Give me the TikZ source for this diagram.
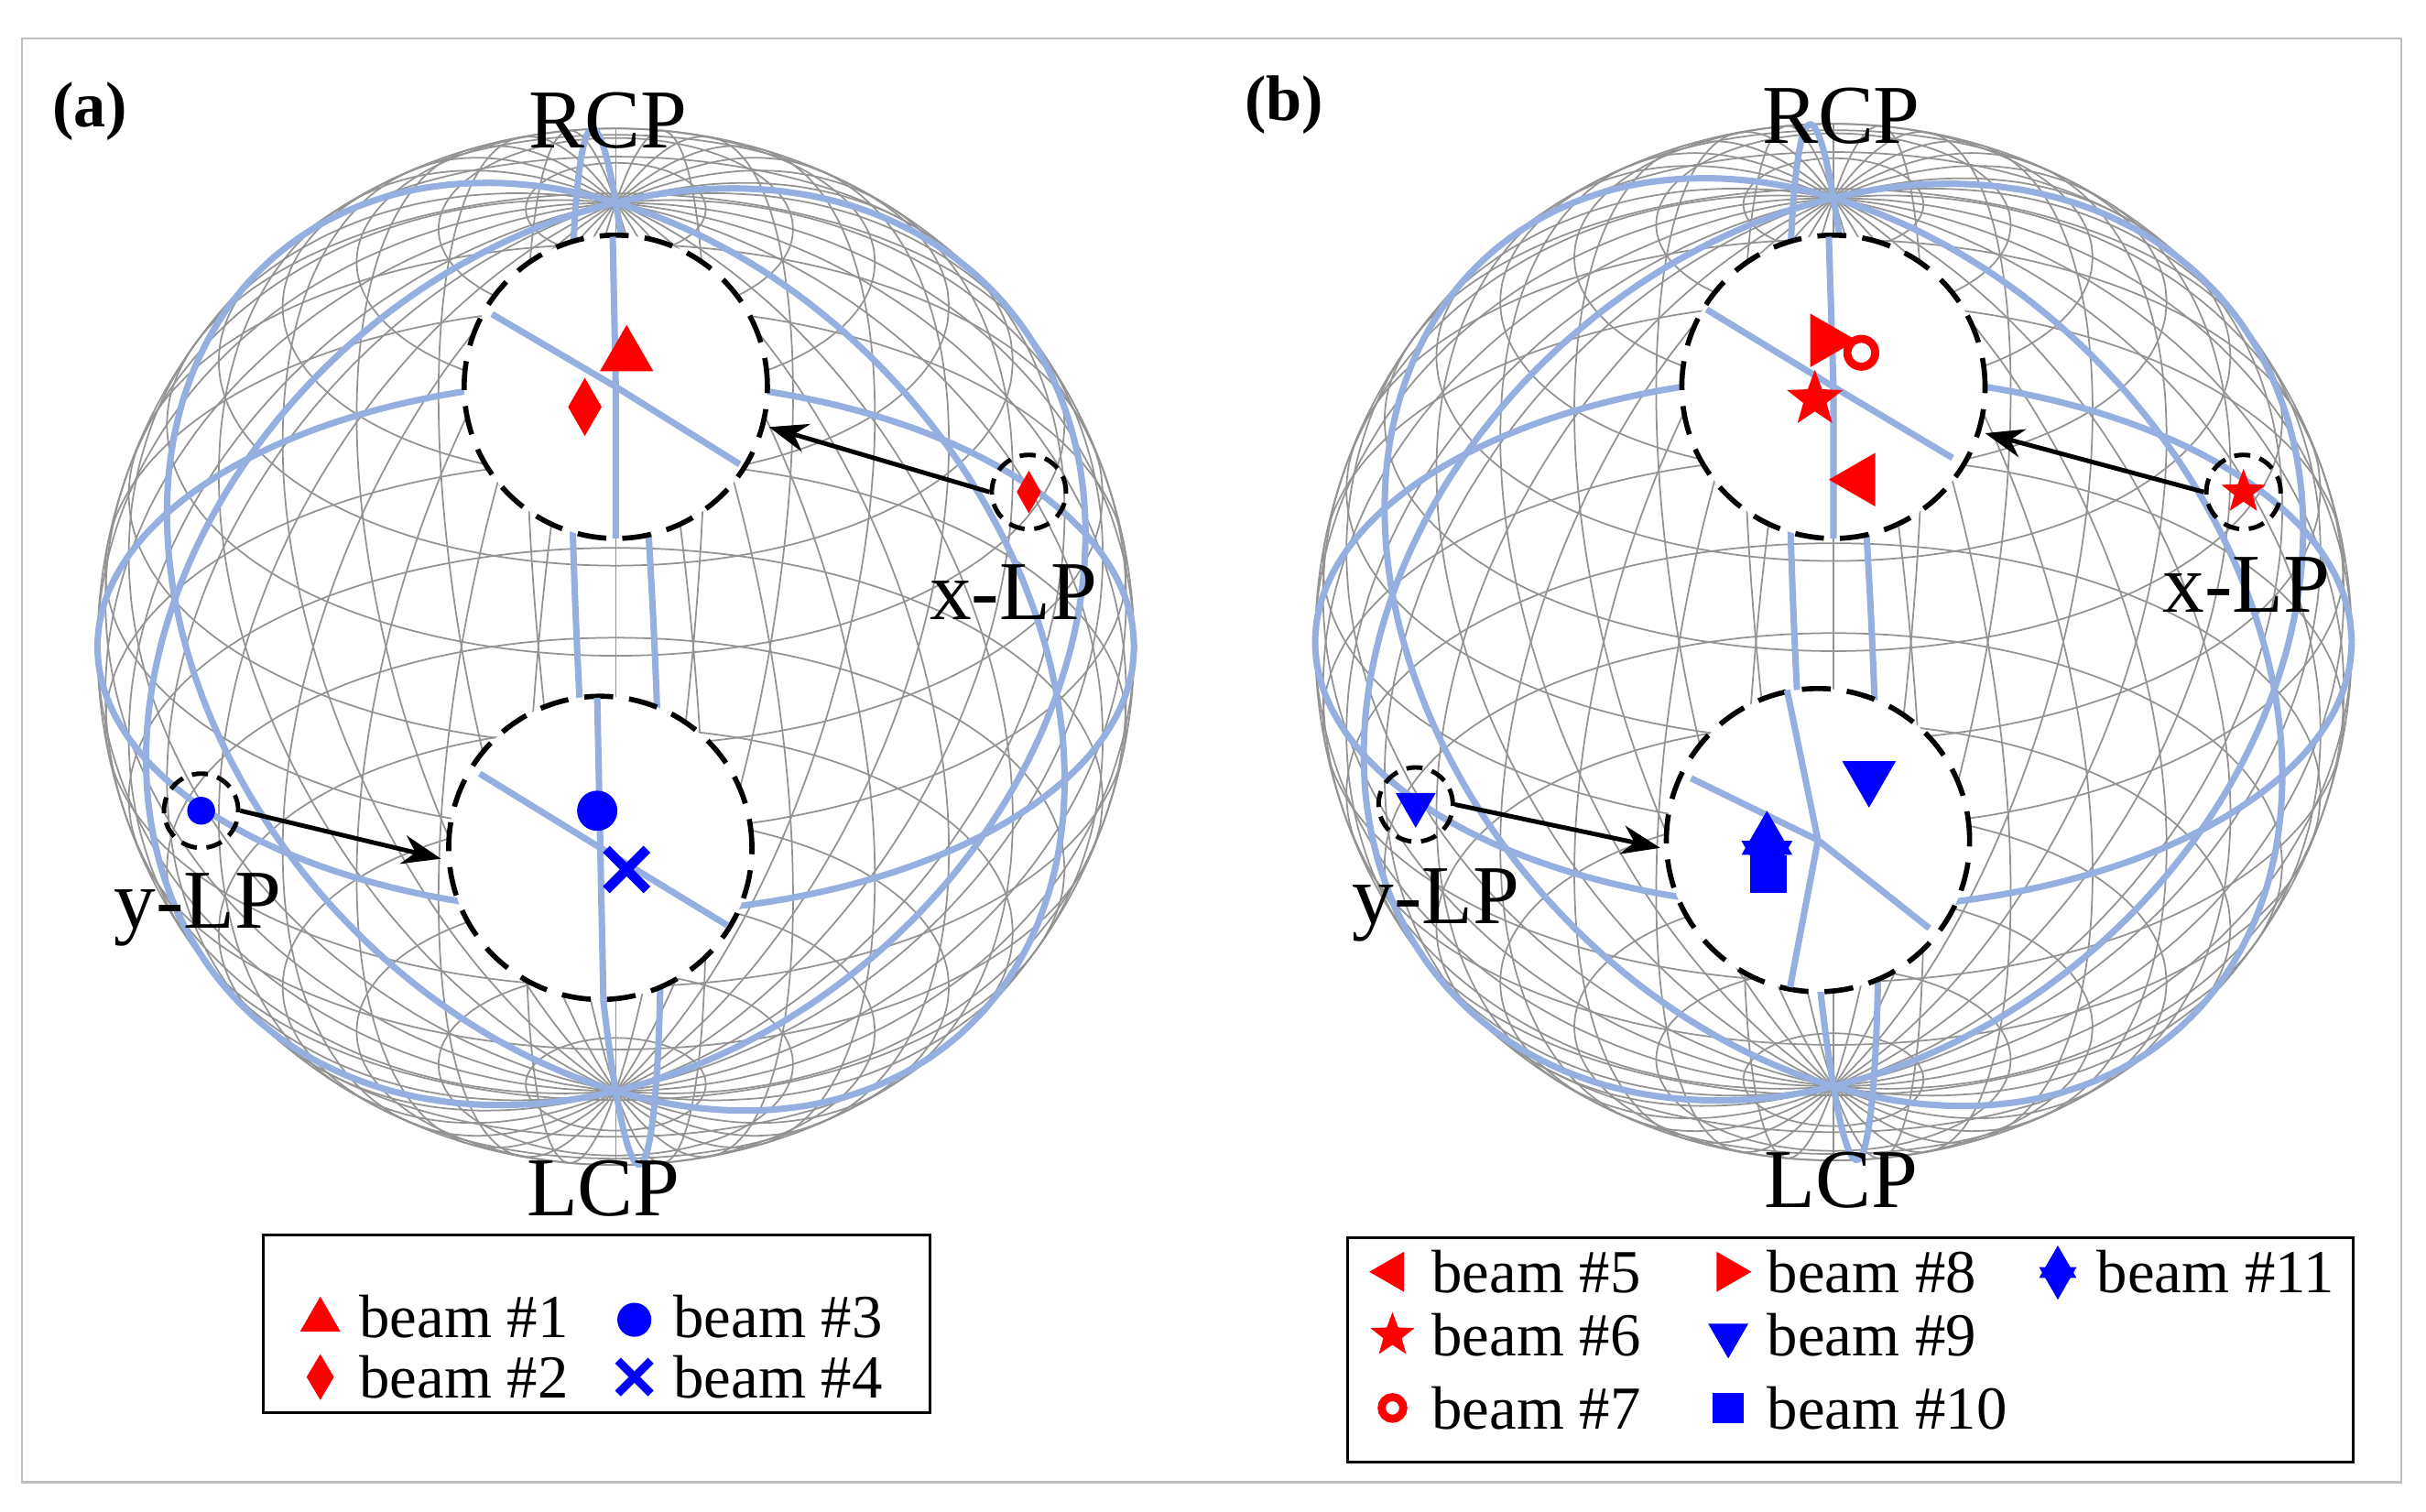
\documentclass[tikz,border=0pt]{standalone}
\usepackage{fontspec}
\setmainfont{Liberation Serif}
\usetikzlibrary{shapes.geometric,shapes.misc,arrows.meta}
\begin{document}
\begin{tikzpicture}[x=0.01689cm,y=-0.01689cm,
 grid/.style={gray!85,line width=0.5pt},
 bl/.style={line width=2pt,color={rgb,255:red,150;green,175;blue,225}},
 inset/.style={circle,draw=black,fill=white,line width=1.6pt,dash pattern=on 9pt off 5pt,minimum size={196*0.01689cm},inner sep=0},
 small/.style={circle,draw=black,line width=1.4pt,dash pattern=on 5pt off 3pt,minimum size={48*0.01689cm},inner sep=0},
 lab/.style={font=\fontsize{26}{30}\selectfont},
 leg/.style={font=\fontsize{19}{22}\selectfont,anchor=west},
 arr/.style={-{Stealth[length=12pt,width=9pt]},line width=1.4pt},
 tri/.style={regular polygon,regular polygon sides=3,fill=#1,inner sep=0,minimum size={40*0.01689cm}},
 dtri/.style={regular polygon,regular polygon sides=3,shape border rotate=180,fill=#1,inner sep=0,minimum size={40*0.01689cm}},
 ltri/.style={regular polygon,regular polygon sides=3,shape border rotate=90,fill=#1,inner sep=0,minimum size={40*0.01689cm}},
 rtri/.style={regular polygon,regular polygon sides=3,shape border rotate=-90,fill=#1,inner sep=0,minimum size={40*0.01689cm}},
 dia/.style={diamond,fill=#1,inner sep=0,minimum width={22*0.01689cm},minimum height={38*0.01689cm}},
 dot/.style={circle,fill=#1,inner sep=0,minimum size={26*0.01689cm}},
 ring/.style={circle,draw=#1,line width=2.5pt,inner sep=0,minimum size={18*0.01689cm}},
 st/.style={star,star points=5,star point ratio=2.4,fill=#1,inner sep=0,minimum size={38*0.01689cm}},
 sq/.style={rectangle,fill=#1,inner sep=0,minimum size={24*0.01689cm}},
 cr/.style={cross out,draw=#1,line width=3pt,inner sep=0,minimum size={20*0.01689cm}},
]
\useasboundingbox (0,0) rectangle (1568,977);
\draw[gray!50,line width=0.6pt] (14,25) rectangle (1552,958);
\def\R{335}
\foreach \cx/\cy in {398/418,1185/415}{
\begin{scope}[shift={(\cx,\cy)}]
 \foreach \t in {10,20,...,170}
  \draw[grid] plot[domain=0:360,samples=61,smooth] ({\R*sin(\t)*cos(\x)},{-\R*(cos(\t)*cos(31)+sin(\t)*sin(\x)*sin(31))});
 \foreach \p in {0,10,...,170}
  \draw[grid] plot[domain=0:360,samples=61,smooth] ({\R*sin(\x)*cos(\p)},{-\R*(cos(\x)*cos(31)+sin(\x)*sin(\p)*sin(31))});
 \draw[grid] (0,0) circle (\R);
 \draw[bl] plot[domain=0:360,samples=73,smooth] ({\R*cos(\x)},{-\R*sin(\x)*sin(31)});
 \foreach \p in {25,95,150}
  \draw[bl] plot[domain=0:360,samples=73,smooth] ({\R*sin(\x)*cos(\p)},{-\R*(cos(\x)*cos(31)+sin(\x)*sin(\p)*sin(31))});
\end{scope}}
% ---------- (a)
\node[font=\fontsize{20}{24}\selectfont\bfseries] (la) at (58,72) {(a)};
\node[inset] (ta) at (398,250) {};
\draw[bl] (ta.center)--(396,153) (ta.center)--(398,348) (ta.center)--(318,203) (ta.center)--(478,300);
\node[inset] (ba) at (388,548) {};
\draw[bl] (ba.center)--(386,451) (ba.center)--(390,646) (ba.center)--(310,500) (ba.center)--(470,598);
\node[tri=red] (a1) at (405,230) {};
\node[dia=red] (a2) at (378,263) {};
\node[dot=blue] (a3) at (386,524) {};
\node[cr=blue] (a4) at (405,562) {};
\node[small] (xa) at (665,318) {};
\node[dia=red,minimum width={16*0.01689cm},minimum height={28*0.01689cm}] (xa2) at (665,318) {};
\node[small] (ya) at (130,524) {};
\node[dot=blue,minimum size={18*0.01689cm}] (ya3) at (130,524) {};
\draw[arr] (xa.west) -- (497,276);
\draw[arr] (ya.east) -- (285,555);
\node[lab] at (393,78) {RCP};
\node[lab] at (655,383) {x-LP};
\node[lab] at (128,588) {y-LP};
\node[lab] at (390,768) {LCP};
\draw[line width=0.8pt] (170,798) rectangle (601,913);
\node[tri=red,minimum size={30*0.01689cm}] (l1) at (207,853) {};
\node[leg] at (225,851) {beam \#1};
\node[dia=red,minimum width={18*0.01689cm},minimum height={30*0.01689cm}] (l2) at (207,890) {};
\node[leg] at (225,890) {beam \#2};
\node[dot=blue,minimum size={22*0.01689cm}] (l3) at (410,853) {};
\node[leg] at (428,851) {beam \#3};
\node[cr=blue,minimum size={16*0.01689cm},line width=2.5pt] (l4) at (410,890) {};
\node[leg] at (428,890) {beam \#4};
% ---------- (b)
\node[font=\fontsize{20}{24}\selectfont\bfseries] (lb) at (830,68) {(b)};
\node[inset] (tb) at (1185,250) {};
\draw[bl] (tb.center)--(1182,153) (tb.center)--(1185,348) (tb.center)--(1103,200) (tb.center)--(1262,296);
\node[inset] (bb) at (1175,543) {};
\draw[bl] (bb.center)--(1155,446) (bb.center)--(1157,638) (bb.center)--(1093,503) (bb.center)--(1247,600);
\node[rtri=red] (b8) at (1180,220) {};
\node[ring=red] (b7) at (1203,228) {};
\node[st=red] (b6) at (1173,258) {};
\node[ltri=red] (b5) at (1202,310) {};
\node[dtri=blue] (b9) at (1208,502) {};
\node[sq=blue] (b10) at (1143,565) {};
\node[tri=blue,minimum size={38*0.01689cm}] (b11a) at (1142,543) {};
\node[dtri=blue,minimum size={38*0.01689cm}] (b11b) at (1142,553) {};
\node[small] (xb) at (1450,318) {};
\node[st=red,minimum size={30*0.01689cm}] (xb6) at (1450,318) {};
\node[small] (yb) at (915,520) {};
\node[dtri=blue,minimum size={30*0.01689cm}] (yb9) at (915,520) {};
\draw[arr] (xb.west) -- (1283,280);
\draw[arr] (yb.east) -- (1073,548);
\node[lab] at (1190,75) {RCP};
\node[lab] at (1452,378) {x-LP};
\node[lab] at (928,585) {y-LP};
\node[lab] at (1190,763) {LCP};
\draw[line width=0.8pt] (871,800) rectangle (1521,945);
\node[ltri=red,minimum size={30*0.01689cm}] (m5) at (900,822) {};
\node[leg] at (918,822) {beam \#5};
\node[st=red,minimum size={30*0.01689cm}] (m6) at (900,863) {};
\node[leg] at (918,863) {beam \#6};
\node[ring=red,minimum size={14*0.01689cm}] (m7) at (900,910) {};
\node[leg] at (918,910) {beam \#7};
\node[rtri=red,minimum size={30*0.01689cm}] (m8) at (1117,822) {};
\node[leg] at (1135,822) {beam \#8};
\node[dtri=blue,minimum size={30*0.01689cm}] (m9) at (1117,863) {};
\node[leg] at (1135,863) {beam \#9};
\node[sq=blue,minimum size={20*0.01689cm}] (m10) at (1117,910) {};
\node[leg] at (1135,910) {beam \#10};
\node[tri=blue,minimum size={28*0.01689cm}] (m11a) at (1330,819) {};
\node[dtri=blue,minimum size={28*0.01689cm}] (m11b) at (1330,826) {};
\node[leg] at (1348,822) {beam \#11};
\end{tikzpicture}
\end{document}
